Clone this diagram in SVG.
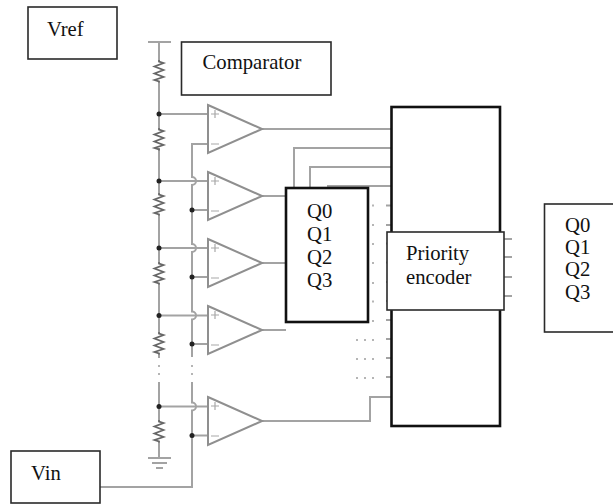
<svg xmlns="http://www.w3.org/2000/svg" width="613" height="504" viewBox="0 0 613 504">
<style>
.w{fill:none;stroke:#a3a3a3;stroke-width:2}
.g{fill:none;stroke:#8f8f8f;stroke-width:2}
.r{fill:none;stroke:#666;stroke-width:1.8}
.b{fill:#fff;stroke:#2a2a2a;stroke-width:1.6}
.bb{fill:#fff;stroke:#111;stroke-width:2.6}
.d{fill:#222}
.t{font-family:"Liberation Serif","Times New Roman",serif;font-size:20.700px;fill:#111}
.dot{fill:none;stroke:#b5b5b5;stroke-width:2;stroke-dasharray:2 6}
.s{fill:none;stroke:#a8a8a8;stroke-width:1.200}
</style>
<defs>
<path id="res" class="r" d="M0 0l0 1.500 4.500 1.500-9 3.500 9 3.500-9 3.500 9 3.500-9 3 4.500 1.500 0 1"/>
<g id="amp"><path class="g" d="M0 0L54 24 0 48Z"/><path class="s" d="M3 9h8M7 5v8M3 39h8"/></g>
</defs>
<g id="connectors">
<path class="w" d="M148 42h23M159 42v18M159 82v46M159 148v45M159 215v47M159 284v48M159 354v4M159 382v38M159 442v16M148 458h23M152 463h15M156 468h7"/>
<path class="dot" d="M159 365v10M192 365v10"/>
<use href="#res" x="159" y="60"/><use href="#res" x="159" y="128"/><use href="#res" x="159" y="193"/><use href="#res" x="159" y="262"/><use href="#res" x="159" y="332"/><use href="#res" x="159" y="420"/>
<path class="w" d="M159 114h49M208 144h-16V177a4 4 0 0 1 0 8V244a4 4 0 0 1 0 8V311.500a4 4 0 0 1 0 8V357M192 382V402.500a4 4 0 0 1 0 8V487H100"/>
<path class="w" d="M159 181h49M159 248h49M159 315.500h49M159 406.500h49M192 210h16M192 277h16M192 344h16M192 435.500h16"/>
<g class="d"><circle cx="159" cy="114" r="2.500"/><circle cx="159" cy="181" r="2.500"/><circle cx="159" cy="248" r="2.500"/><circle cx="159" cy="315.500" r="2.500"/><circle cx="159" cy="406.500" r="2.500"/><circle cx="192" cy="210" r="2.500"/><circle cx="192" cy="277" r="2.500"/><circle cx="192" cy="344" r="2.500"/><circle cx="192" cy="435.500" r="2.500"/></g>
<path class="w" d="M262 129H391M262 196h24M262 263h24M262 330h24M262 421H370V397H391M294 188V148H391M310 188V167H391M327 186H391"/>
<path class="w" d="M386 205.500h5M386 225h5M386 243.500h5M386 262.500h5M386 282h5M386 301h5M386 320h5M386 339h5M386 358h5M386 377h5M504 239h8M504 257h8M504 277h8M504 296h8"/>
<path class="dot" d="M372 205.500h2M372 225h2M372 244h2M372 263h2M372 283h2M372 301.500h2M372 321h2M356 340h18M356 359h18M356 378h18"/>
</g>
<g id="amp1"><use href="#amp" x="208" y="105"/></g>
<g id="amp2"><use href="#amp" x="208" y="172"/></g>
<g id="amp3"><use href="#amp" x="208" y="239"/></g>
<g id="amp4"><use href="#amp" x="208" y="306"/></g>
<g id="amp5"><use href="#amp" x="208" y="397"/></g>
<g id="vref"><rect class="b" x="28" y="7" width="89" height="52"/><text class="t" x="47" y="36">Vref</text></g>
<g id="comparator"><rect class="b" x="181.500" y="42" width="149.500" height="53"/><text class="t" x="202.500" y="69">Comparator</text></g>
<g id="vin"><rect class="b" x="11" y="451" width="89" height="52"/><text class="t" x="31" y="480">Vin</text></g>
<g id="encoder"><rect class="bb" x="391.500" y="107" width="108.500" height="319"/><rect class="b" x="387" y="232" width="117" height="78"/><text class="t" x="406" y="260">Priority</text><text class="t" x="406" y="284">encoder</text></g>
<g id="q-left"><rect class="bb" x="286" y="188" width="82" height="134"/><text class="t" x="307" y="218">Q0</text><text class="t" x="307" y="241">Q1</text><text class="t" x="307" y="264">Q2</text><text class="t" x="307" y="287">Q3</text></g>
<g id="q-right"><rect class="b" x="544.500" y="204" width="72" height="128"/><text class="t" x="565" y="231.500">Q0</text><text class="t" x="565" y="254">Q1</text><text class="t" x="565" y="276">Q2</text><text class="t" x="565" y="299">Q3</text></g>
</svg>
